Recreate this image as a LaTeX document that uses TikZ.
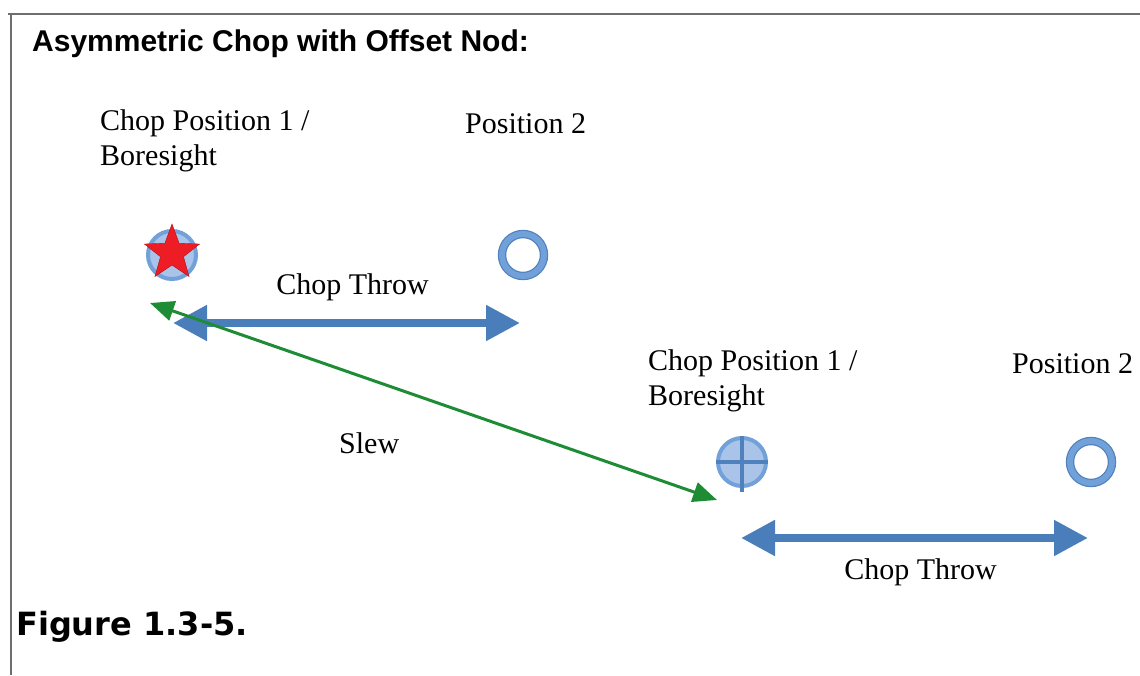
\documentclass[tikz,border=0pt]{standalone}
\usepackage{fontspec}
\setmainfont{Liberation Serif}
\newfontfamily\titlefont{Liberation Sans}
\newfontfamily\figfont{DejaVu Sans}
\usepackage{tikz}
\usetikzlibrary{positioning,arrows.meta,shapes.geometric}

\definecolor{throwblue}{HTML}{4A7EBB}
\definecolor{ringblue}{HTML}{72A0D8}
\definecolor{ringedge}{HTML}{4F81BD}
\definecolor{lightblue}{HTML}{A9C4E8}
\definecolor{starred}{HTML}{EE1C25}
\definecolor{slewgreen}{HTML}{1E8B35}
\definecolor{framegray}{HTML}{6E6E6E}

\tikzset{
    lbl/.style={anchor=base west,inner sep=0pt,align=left,
        font=\fontsize{30}{35}\selectfont},
    ring/.style={circle,draw=ringedge,line width=1.2pt,double=ringblue,
        double distance=6pt,minimum size=42pt,inner sep=0pt},
    target/.style={circle,draw=ringblue,fill=lightblue,line width=4pt,
        minimum size=48pt,inner sep=0pt},
    redstar/.style={star,star points=5,star point ratio=2.4,fill=starred,
        draw=starred!70!black,line width=0.4pt,minimum size=58pt,inner sep=0pt},
    throwarrow/.style={draw=throwblue,line width=8pt,
        {Triangle[length=34pt,width=34pt]}-{Triangle[length=34pt,width=34pt]}},
    slewarrow/.style={draw=slewgreen,line width=3pt,
        {Triangle[length=24pt,width=20pt]}-{Triangle[length=24pt,width=20pt]}},
    crossline/.style={draw=ringedge,line width=3.5pt},
    frame/.style={draw=framegray,line width=2pt}
}

\begin{document}
\begin{tikzpicture}[x=1pt,y=-1pt,node distance=350pt,on grid]
    \useasboundingbox (0,0) rectangle (1140,675);
    \draw[frame] (8,14) -- (1140,14);
    \draw[frame] (11,14) -- (11,675);

    \node[anchor=base west,inner sep=0pt,
        font=\titlefont\bfseries\fontsize{30}{36}\selectfont] (title) at (32,51)
        {Asymmetric Chop with Offset Nod:};
    \node[anchor=base west,inner sep=0pt,
        font=\figfont\bfseries\fontsize{32}{38}\selectfont] (figlbl) at (16,635)
        {Figure 1.3-5.};

    % first chop
    \node[target] (bore1) at (172,255) {};
    \node[redstar] (star1) at (172,253) {};
    \node[ring,right=351pt of bore1] (pos2a) {};
    \node[lbl] (bore1lbl) at (100,165) {Chop Position 1 /\\Boresight};
    \node[lbl] (pos2albl) at (465,133) {Position 2};
    \coordinate (ct1l) at (173,323);
    \coordinate (ct1r) at (520,323);

    % second chop
    \node[target] (bore2) at (742,462) {};
    \node[ring,right=349pt of bore2] (pos2b) {};
    \node[lbl] (bore2lbl) at (648,405) {Chop Position 1 /\\Boresight};
    \node[lbl] (pos2blbl) at (1012,373) {Position 2};
    \coordinate (ct2l) at (741,538);
    \coordinate (ct2r) at (1088,538);
    \path
        (bore2.north) edge[crossline] ([yshift=-4pt]bore2.south)
        (bore2.west) edge[crossline] (bore2.east);

    % slew
    \coordinate (slew1) at (150,303);
    \coordinate (slew2) at (717,500);
    \node[lbl] (slewlbl) at (339,453) {Slew};

    \path
        (ct1l) edge[throwarrow] node[above=18pt,xshift=6pt,inner sep=0pt,
            font=\fontsize{30}{35}\selectfont] {Chop Throw} (ct1r)
        (ct2l) edge[throwarrow] node[below=16.5pt,xshift=6pt,inner sep=0pt,
            font=\fontsize{30}{35}\selectfont] {Chop Throw} (ct2r)
        (slew1) edge[slewarrow] (slew2);
\end{tikzpicture}
\end{document}
